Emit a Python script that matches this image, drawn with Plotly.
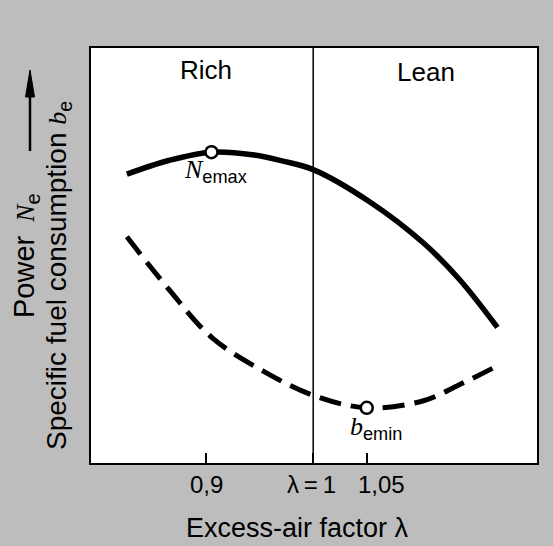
import plotly.graph_objects as go

# Data (lambda vs relative value, arbitrary units 0-100)
lam_power = [0.826, 0.865, 0.905, 0.945, 0.971, 1.0, 1.053, 1.103, 1.136, 1.172]
power = [69.6, 72.9, 74.9, 74.2, 72.8, 70.7, 62.9, 53.0, 44.4, 32.7]

lam_fuel = [0.826, 0.865, 0.906, 0.955, 1.0, 1.05, 1.103, 1.136, 1.172]
fuel = [54.5, 41.9, 30.1, 21.9, 16.3, 13.3, 15.0, 18.8, 23.4]

pmax_lam, pmax_val = [0.905], [74.9]
bmin_lam, bmin_val = [1.05], [13.3]

tick_vals = [0.9, 1.0, 1.05]
tick_text = ["0,9", "λ\u2009=\u20091", "1,05"]
tick_shift = [0, -2, 15]  # label offsets in px as printed

FONT = "Liberation Sans, Arial, Helvetica, sans-serif"

# plot-area geometry in pixels (for placing texts outside the axes)
L, R, T, B = 91, 537, 48, 463
def px(xp):
    return (xp - L) / (R - L)
def py(yp):
    return (B - yp) / (B - T)

fig = go.Figure()
fig.add_trace(go.Scatter(x=lam_power, y=power, mode="lines",
                         line=dict(color="black", width=5.5, shape="spline", smoothing=1.0),
                         hoverinfo="skip", showlegend=False))
fig.add_trace(go.Scatter(x=lam_fuel, y=fuel, mode="lines",
                         line=dict(color="black", width=5, shape="spline", smoothing=1.0, dash="22px,10px"),
                         hoverinfo="skip", showlegend=False))
fig.add_trace(go.Scatter(x=pmax_lam + bmin_lam, y=pmax_val + bmin_val, mode="markers",
                         marker=dict(size=12, color="white", line=dict(color="black", width=2.5)),
                         hoverinfo="skip", showlegend=False))

fig.add_shape(type="line", xref="x", yref="paper", x0=1.0, x1=1.0, y0=0, y1=1,
              line=dict(color="black", width=1.5))
# arrow next to the y-axis title
fig.add_shape(type="line", xref="paper", yref="paper", x0=px(30), x1=px(30), y0=py(151), y1=py(92),
              line=dict(color="black", width=2.5))
fig.add_shape(type="path", xref="paper", yref="paper",
              path=f"M {px(30)},{py(70)} L {px(25.5)},{py(97)} L {px(34.5)},{py(97)} Z",
              fillcolor="black", line=dict(color="black", width=1))

SUBN = "<span style='font-family:Liberation Serif, Times New Roman, serif;font-size:26px'><i>{}</i></span>"

ann = []
ann.append(dict(x=0.9, y=94.8, xref="x", yref="y", text="Rich", showarrow=False,
                font=dict(family=FONT, size=26, color="black")))
ann.append(dict(x=1.105, y=94.3, xref="x", yref="y", text="Lean", showarrow=False,
                font=dict(family=FONT, size=26, color="black")))
ann.append(dict(x=0.8776, y=70.3, xref="x", yref="y", xanchor="left", yanchor="middle",
                text=SUBN.format("N") + "<sub>emax</sub>",
                showarrow=False, font=dict(family=FONT, size=26, color="black")))
ann.append(dict(x=1.0327, y=8.4, xref="x", yref="y", xanchor="left", yanchor="middle",
                text=SUBN.format("b") + "<sub>emin</sub>",
                showarrow=False, font=dict(family=FONT, size=26, color="black")))
# tick labels
for v, t, s in zip(tick_vals, tick_text, tick_shift):
    ann.append(dict(x=v, y=py(484), xref="x", yref="paper", xanchor="center", yanchor="middle",
                    xshift=s, text=t, showarrow=False,
                    font=dict(family=FONT, size=24, color="black")))
# x-axis title
ann.append(dict(x=px(297.5), y=py(528), xref="paper", yref="paper",
                xanchor="center", yanchor="middle",
                text="Excess-air factor λ", showarrow=False,
                font=dict(family=FONT, size=27, color="black")))
# y-axis titles
ann.append(dict(x=px(26), y=py(256), xref="paper", yref="paper",
                xanchor="center", yanchor="middle",
                text="Power\u2009 " + SUBN.format("N") + "<sub>e</sub>",
                textangle=-90, showarrow=False,
                font=dict(family=FONT, size=29, color="black")))
ann.append(dict(x=px(58), y=py(276), xref="paper", yref="paper",
                xanchor="center", yanchor="middle",
                text="Specific fuel consumption " + SUBN.format("b") + "<sub>e</sub>",
                textangle=-90, showarrow=False,
                font=dict(family=FONT, size=28, color="black")))

fig.update_layout(
    width=553, height=546,
    margin=dict(l=L, r=553 - R, t=T, b=546 - B),
    paper_bgcolor="#bdbdbd", plot_bgcolor="white",
    annotations=ann,
    xaxis=dict(range=[0.7925, 1.209], showgrid=False, zeroline=False,
               showline=True, linecolor="black", linewidth=2, mirror=True,
               tickmode="array", tickvals=tick_vals, showticklabels=False,
               ticks="inside", ticklen=10, tickwidth=1.5, tickcolor="black"),
    yaxis=dict(range=[0, 100], showgrid=False, zeroline=False,
               showline=True, linecolor="black", linewidth=2, mirror=True,
               showticklabels=False, ticks=""),
)

fig.write_html("out.html", config={"displayModeBar": False},
               post_script="document.body.style.margin='0';")
